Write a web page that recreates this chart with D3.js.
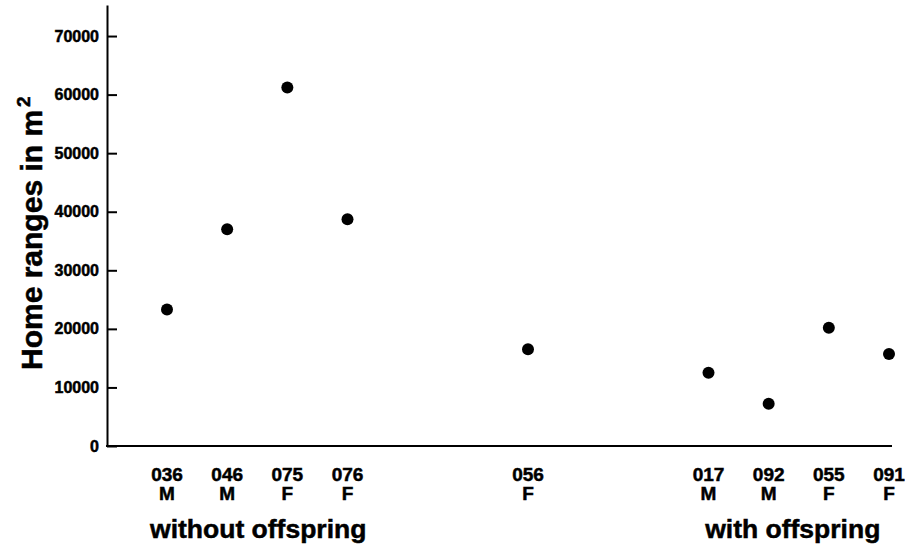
<!DOCTYPE html>
<html>
<head>
<meta charset="utf-8">
<script src="https://cdn.jsdelivr.net/npm/d3@7"></script>
<style>
  body { margin: 0; background: #fff; }
  svg { display: block; font-family: "Liberation Sans", Arial, sans-serif; font-weight: bold; }
  text { fill: #000; stroke: #000; stroke-width: 0.5px; }
</style>
</head>
<body>
<div id="chart"></div>
<script>
const animals = ["036", "046", "075", "076", "056", "017", "092", "055", "091"];
const sexes = ["M", "M", "F", "F", "F", "M", "M", "F", "F"];
const homeRanges = [23300, 37000, 61200, 38700, 16500, 12500, 7200, 20200, 15700];
const groups = ["without offspring", "with offspring"];
const yTicks = [0, 10000, 20000, 30000, 40000, 50000, 60000, 70000];

// slot order along the x axis, blanks keep the gaps of the original figure
const xOrder = ["036", "046", "075", "076", "_a", "_b", "056", "_c", "_d", "017", "092", "055", "091"];

const width = 905, height = 548;
const axisX = 107, axisY = 446, axisTop = 5, axisRight = 892;

const svg = d3.select("#chart").append("svg")
  .attr("width", width)
  .attr("height", height);

const x = d3.scalePoint().domain(xOrder).range([167, 889]);
const y = d3.scaleLinear().domain([0, 75300]).range([axisY, axisTop]);

// y axis, ticks pointing inward
const yAxis = svg.append("g")
  .attr("transform", `translate(${axisX},0)`)
  .call(d3.axisLeft(y).tickValues(yTicks).tickFormat(d3.format("d"))
    .tickSizeInner(-10).tickSizeOuter(0).tickPadding(8));
yAxis.select(".domain").attr("stroke", "#000").attr("stroke-width", 2);
yAxis.selectAll(".tick line").attr("stroke", "#000").attr("stroke-width", 2);
yAxis.selectAll(".tick text")
  .attr("fill", "#000")
  .style("font-size", "16px")
  .style("font-weight", "bold")
  .style("font-family", "'Liberation Sans', Arial, sans-serif");

// x axis line
svg.append("line")
  .attr("x1", axisX - 1).attr("x2", axisRight)
  .attr("y1", y(0)).attr("y2", y(0))
  .attr("stroke", "#000").attr("stroke-width", 2);

// points
svg.selectAll("circle.pt")
  .data(animals)
  .join("circle")
  .attr("class", "pt")
  .attr("cx", d => x(d))
  .attr("cy", (d, i) => y(homeRanges[i]))
  .attr("r", 6)
  .attr("fill", "#000");

// category labels
const cat = svg.selectAll("g.cat")
  .data(animals)
  .join("g")
  .attr("class", "cat")
  .attr("transform", d => `translate(${x(d)},0)`)
  .attr("text-anchor", "middle")
  .style("font-size", "19px");
cat.append("text").attr("y", 481).text(d => d);
cat.append("text").attr("y", 500).text((d, i) => sexes[i]);

// group labels
const groupCenters = [
  (x("036") + x("076")) / 2 + 1,
  (x("017") + x("091")) / 2 - 6
];
svg.selectAll("text.group")
  .data(groups)
  .join("text")
  .attr("class", "group")
  .attr("x", (d, i) => groupCenters[i])
  .attr("y", 538)
  .attr("text-anchor", "middle")
  .style("font-size", "26.5px")
  .text(d => d);

// y title
const title = svg.append("text")
  .attr("transform", "translate(42,370) rotate(-90)")
  .attr("text-anchor", "start")
  .style("font-size", "30px");
title.append("tspan").text("Home ranges in m");
title.append("tspan").attr("dx", 3).attr("dy", -12).style("font-size", "19px").text("2");
</script>
</body>
</html>
